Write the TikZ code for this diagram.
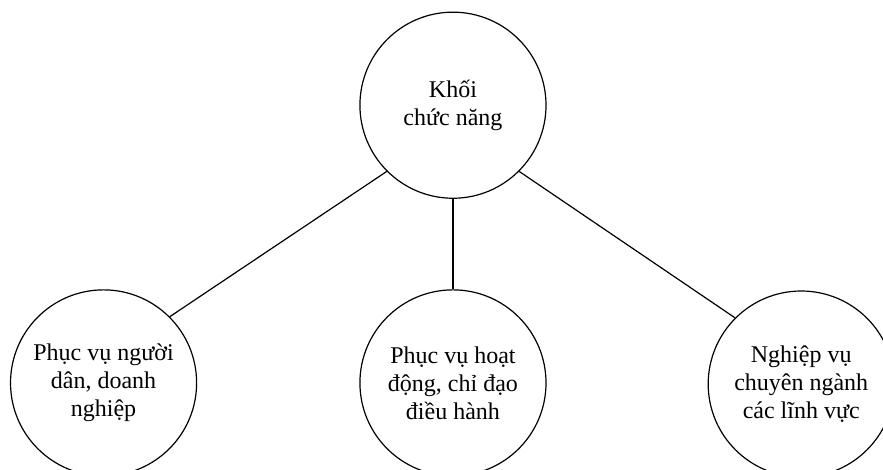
\documentclass[tikz,border=0pt]{standalone}
\usepackage{fontspec}
\setmainfont{Liberation Serif}
\usepackage{tikz}
\usetikzlibrary{positioning}

\begin{document}
\begin{tikzpicture}[
    khoi/.style={circle,draw,line width=0.6pt,minimum size=3.27cm,inner sep=0pt,
      align=center,font=\fontsize{12pt}{14pt}\selectfont},
    noi/.style={line width=0.6pt}]
        \useasboundingbox (0,0) rectangle (15.517,8.259);
        \node[khoi] (kf) at (7.96,6.41) {Khối\\chức năng};
        \node[khoi] (pvdn) at (1.82,1.53) {Phục vụ người\\dân, doanh\\nghiệp};
        \node[khoi] (pvdh) at (7.96,1.53) {Phục vụ hoạt\\động, chỉ đạo\\điều hành};
        \node[khoi] (nvcn) at (14.08,1.51) {Nghiệp vụ\\chuyên ngành\\các lĩnh vực};
        \draw[noi] (kf.225) -- (pvdn.45);
        \draw[noi] (kf.south) -- (pvdh.north);
        \draw[noi] (kf.315) -- (nvcn.135);
      \end{tikzpicture}
\end{document}
